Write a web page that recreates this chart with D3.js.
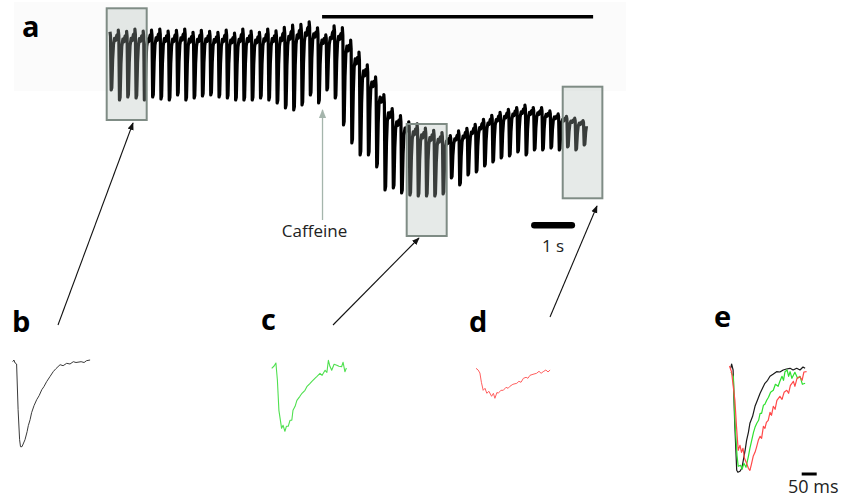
<!DOCTYPE html>
<html><head><meta charset="utf-8">
<script src="https://cdn.jsdelivr.net/npm/d3@7"></script>
<style>body{margin:0;background:#fff} svg{display:block}</style>
</head><body><svg id="fig" width="842" height="501"></svg>
<script>
// ---------- DATA ----------
// Panel a: Ca2+ transient train, one entry per stimulation cycle (a.u.)
const cycleTops = [165,166,165,167,165, 166,167,165,166,167,164,166,165,
  164,166,163,167,165,164,167,165,168,170,171,174,168,
  162,170,167,154,142,130,118,100,87,80,74,
  72,68,66,64,62,66,69,73,78,82,85,88,90,92,90,90,87,84,82,80,78];
const cycleBottoms = [110,100,103,102,100, 103,101,100,105,100,102,104,105,
  103,102,100,100,100,102,100,97,92,90,95,105,97,
  110,102,75,57,45,45,33,10,12,7,5,
  4,4,4,6,22,15,25,28,34,38,42,44,48,45,50,50,52,50,53,50,55];
const cyclePeriod = 0.1886; // s between stimuli
// transient template within a cycle: [phase, fraction of amplitude]
const cycleShape = [[0,-0.06],[0.06,0.02],[0.14,1],[0.22,0.96],[0.32,0.45],[0.42,0.18],[0.55,0.07],[0.68,0.11],[0.82,0.02],[1,0]];
const caffeineWindow = [4.82, 10.98]; // s
const caffeineTime = 4.83;             // s
const zoomWindows = [[-0.075,0.834],[6.743,7.652],[10.289,11.19]]; // s

// Panels b-e: single transients [ms, dF a.u.]
const traceB = [[0,0],[4,1.7],[8,-1.3],[13,-2.3],[18,-48],[23,-78],[26,-85],[31,-85],[41,-78],[48,-70],[52,-64],[58,-58],[63,-51],[71,-44],[80,-38],[88,-34],[97,-28],[104,-25],[113,-20],[124,-15],[135,-10],[144,-7],[158,-3],[168,-4],[180,-1.6],[191,-2.3],[202,0],[211,-0.8],[228,0],[238,-0.8],[246,1],[258,1.7]];
const traceC = [[0,0],[8,2.3],[14,5.3],[19,-12],[24,-42],[33,-60],[38,-57],[44,-63],[49,-58],[55,-58],[61,-52],[67,-52],[71,-42],[78,-38],[84,-32],[94,-28],[101,-25],[111,-22],[118,-18],[128,-15],[134,-13],[144,-10],[151,-8],[161,-5],[168,-7],[178,-2],[184,-4],[189,8],[194,2],[200,-2],[208,4],[217,3],[224,2],[233,1.6],[238,6],[244,-3.4],[249,0.3]];
const traceD = [[0,0],[7,-1.7],[13,-4.7],[18,-14],[24,-22],[30,-20],[36,-25],[43,-23],[52,-28],[58,-25],[63,-30],[70,-24],[74,-25],[83,-22],[91,-22],[100,-19],[107,-20],[113,-18],[123,-16],[136,-15],[143,-13],[150,-14],[158,-10],[167,-9],[173,-10],[180,-7],[190,-6],[202,-5],[210,-3],[217,-5],[224,-3.4],[233,-1.7],[240,-3.7],[247,-1.7]];
const traceEBlack = [[0,0],[3,4.3],[8,-1.7],[13,-52],[20,-102],[24,-104],[31,-103],[37,-100],[42,-92],[48,-82],[53,-72],[59,-64],[64,-55],[73,-48],[81,-38],[89,-32],[98,-25],[106,-20],[114,-15],[123,-12],[131,-8],[141,-6],[153,-3.4],[164,-3.7],[175,-1.7],[186,-0.7],[198,0],[208,-1.7],[220,0],[231,-1.7],[241,1.3],[248,0]];
const traceEGreen = [[1,-3.7],[9,-8.4],[14,-52],[21,-87],[25,-98],[33,-97],[38,-101],[44,-95],[51,-99],[59,-88],[64,-80],[70,-72],[76,-64],[81,-59],[87,-55],[93,-52],[98,-45],[103,-45],[109,-37],[114,-36],[120,-32],[126,-29],[133,-24],[142,-22],[149,-16],[158,-18],[164,-13],[171,-8],[176,-12],[181,-3.4],[188,-1.7],[193,-8],[198,-3.4],[204,-10],[214,-4],[223,-10],[231,-8],[239,-16],[248,-15]];
const traceERed = [[-4,2.3],[3,-3.7],[8,-17],[14,-32],[19,-57],[25,-82],[31,-77],[36,-84],[41,-80],[46,-90],[53,-95],[59,-100],[64,-102],[69,-96],[75,-88],[81,-84],[86,-79],[92,-72],[98,-68],[103,-70],[109,-58],[114,-60],[119,-54],[125,-52],[131,-44],[136,-47],[142,-38],[148,-41],[154,-32],[164,-28],[171,-31],[178,-24],[187,-22],[193,-25],[199,-17],[209,-13],[214,-18],[221,-10],[231,-8.4],[238,-12],[244,-3.7],[253,-3.4]];

// ---------- DRAW ----------
const svg = d3.select("#fig");
const font = "'Open Sans', 'Liberation Sans', sans-serif";

// faint panel background
svg.append("rect").attr("x",14).attr("y",2).attr("width",612).attr("height",89).attr("fill","#fbfbfb");

const x = d3.scaleLinear().domain([0, 11]).range([110, 594]);
const y = d3.scaleLinear().domain([0, 200]).range([200, 0]);

// build main trace points
const pts = [];
cycleTops.forEach((top, i) => {
  const nextTop = i + 1 < cycleTops.length ? cycleTops[i+1] : top;
  const bot = cycleBottoms[i];
  const last = i === cycleTops.length - 1;
  cycleShape.forEach(([p, f]) => {
    if (last && p > 0.5) return;
    const base = top + (nextTop - top) * p;
    pts.push([(i + p) * cyclePeriod, base + f * (bot - base)]);
  });
});
const line = d3.line().x(d => x(d[0])).y(d => y(d[1]));
svg.append("path").attr("d", line(pts)).attr("fill","none")
  .attr("stroke","#000").attr("stroke-width",3.2).attr("stroke-linejoin","round");

// caffeine application bar
svg.append("line").attr("x1",x(caffeineWindow[0])).attr("x2",x(caffeineWindow[1]))
  .attr("y1",16.7).attr("y2",16.7).attr("stroke","#000").attr("stroke-width",3.6);

// zoom boxes
const boxY = [[8.3,120],[124,236],[86.7,198.3]];
zoomWindows.forEach((w,i)=>{
  svg.append("rect").attr("x",x(w[0])).attr("y",boxY[i][0])
    .attr("width",x(w[1])-x(w[0])).attr("height",boxY[i][1]-boxY[i][0])
    .attr("fill","#b2beb8").attr("fill-opacity",0.32)
    .attr("stroke","#7f8c85").attr("stroke-width",2);
});

// markers
const defs = svg.append("defs");
function marker(id, color){
  defs.append("marker").attr("id",id).attr("viewBox","0 0 10 10").attr("refX",9).attr("refY",5)
    .attr("markerWidth",7).attr("markerHeight",7).attr("orient","auto-start-reverse")
    .append("path").attr("d","M0,1 L10,5 L0,9 z").attr("fill",color);
}
marker("ab","#111"); marker("ag","#a5b5ac");

// caffeine arrow + label
svg.append("line").attr("x1",x(caffeineTime)).attr("x2",x(caffeineTime)).attr("y1",220).attr("y2",110)
  .attr("stroke","#a5b5ac").attr("stroke-width",1.3).attr("marker-end","url(#ag)");
svg.append("text").attr("x",x(caffeineTime)-8).attr("y",237).attr("text-anchor","middle")
  .attr("font-family",font).attr("font-size",17).attr("fill","#222").text("Caffeine");

// 1 s scale bar
const sb0 = 9.57;
svg.append("rect").attr("x",x(sb0)).attr("y",222).attr("width",x(sb0+1)-x(sb0)).attr("height",6.5)
  .attr("rx",3.2).attr("fill","#000");
svg.append("text").attr("x",x(sb0+0.5)).attr("y",252).attr("text-anchor","middle")
  .attr("font-family",font).attr("font-size",17).attr("fill","#222").text("1 s");

// black arrows from sub-panels to boxes
[[58,325,133,123],[333,325,419,238],[550,317,597,206]].forEach(a=>{
  svg.append("line").attr("x1",a[0]).attr("y1",a[1]).attr("x2",a[2]).attr("y2",a[3])
    .attr("stroke","#111").attr("stroke-width",1.1).attr("marker-end","url(#ab)");
});

// panel letters
[["a",22,37],["b",12,332],["c",261,330],["d",469,332],["e",714,327]].forEach(l=>{
  svg.append("text").attr("x",l[1]).attr("y",l[2]).attr("font-family",font)
    .attr("font-weight",700).attr("font-size",29).attr("fill","#000").text(l[0]);
});

// sub panels
const t = d3.scaleLinear().domain([0, 50]).range([0, 15]);
const v = d3.scaleLinear().domain([0, 1]).range([0, -1]);
const sl = d3.line().x(d => t(d[0])).y(d => v(d[1]));
function panel(ox, oy, traces){
  const g = svg.append("g").attr("transform",`translate(${ox},${oy})`);
  traces.forEach(([data,color,w])=>{
    g.append("path").attr("d",sl(data)).attr("fill","none").attr("stroke",color)
      .attr("stroke-width",w).attr("stroke-linejoin","round");
  });
  return g;
}
panel(12.7,361.7,[[traceB,"#3a3a3a",1]]);
panel(271.7,368.3,[[traceC,"#4fe04f",1.1]]);
panel(476,368.3,[[traceD,"#ff5f5f",1]]);
panel(730.7,368.3,[[traceEBlack,"#1a1a1a",1.2],[traceEGreen,"#2fe02f",1.2],[traceERed,"#ff4a4a",1.2]]);

// 50 ms scale bar
svg.append("line").attr("x1",801.7).attr("x2",801.7+t(50)).attr("y1",474).attr("y2",474)
  .attr("stroke","#000").attr("stroke-width",3);
svg.append("text").attr("x",788).attr("y",493).attr("font-family",font).attr("font-size",18)
  .attr("fill","#222").text("50 ms");
</script></body></html>
